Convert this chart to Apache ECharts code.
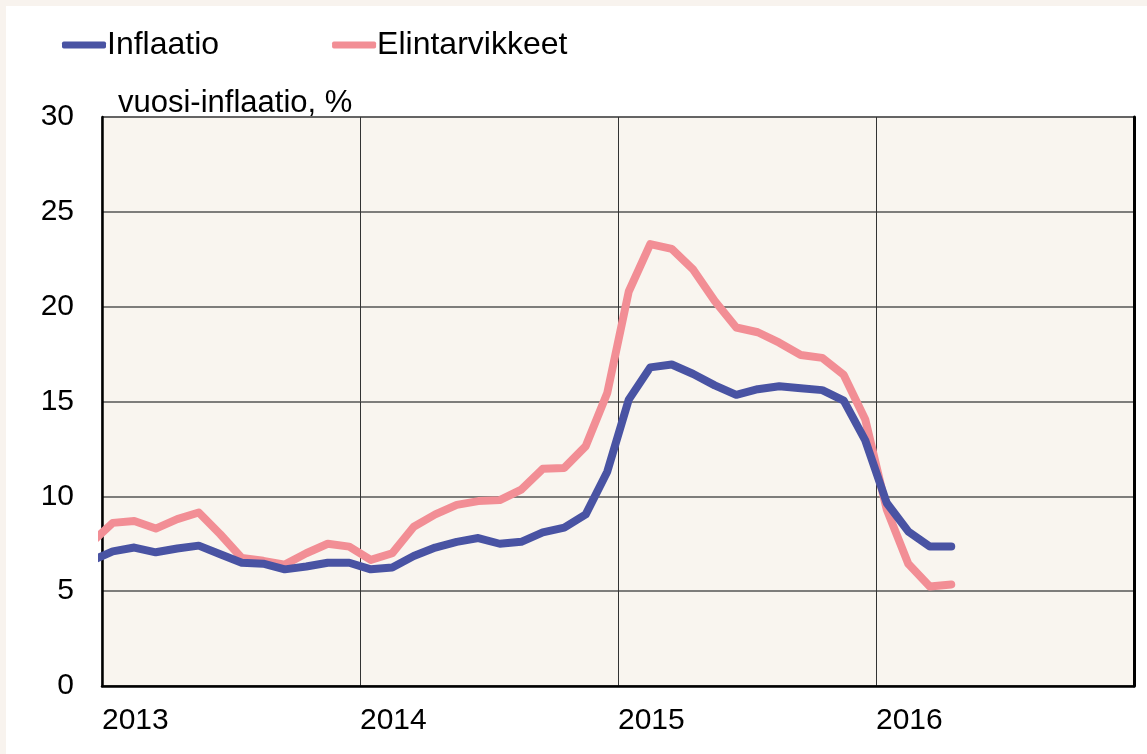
<!DOCTYPE html>
<html>
<head>
<meta charset="utf-8">
<script src="https://cdn.jsdelivr.net/npm/echarts@6/dist/echarts.min.js"></script>
<style>
  html, body { margin: 0; padding: 0; background: #fff; }
  #chart {
    width: 1147px; height: 754px; box-sizing: border-box;
    border-left: 6px solid #f8f3ee; border-top: 6px solid #f8f3ee;
  }
</style>
</head>
<body>
<div id="chart"></div>
<script>
// kuukausittainen vuosi-inflaatio, %
const months = [
  '2012-12',
  '2013-01', '2013-02', '2013-03', '2013-04', '2013-05', '2013-06',
  '2013-07', '2013-08', '2013-09', '2013-10', '2013-11', '2013-12',
  '2014-01', '2014-02', '2014-03', '2014-04', '2014-05', '2014-06',
  '2014-07', '2014-08', '2014-09', '2014-10', '2014-11', '2014-12',
  '2015-01', '2015-02', '2015-03', '2015-04', '2015-05', '2015-06',
  '2015-07', '2015-08', '2015-09', '2015-10', '2015-11', '2015-12',
  '2016-01', '2016-02', '2016-03', '2016-04'
]
const inflaatio = [
  6.6,
  7.1, 7.3, 7.05, 7.25, 7.4, 6.95, 6.5, 6.45, 6.15, 6.3, 6.5, 6.5,
  6.15, 6.25, 6.85, 7.3, 7.6, 7.8, 7.5, 7.6, 8.1, 8.35, 9.05, 11.3,
  15.1, 16.8, 16.95, 16.45, 15.85, 15.35, 15.65, 15.8, 15.7, 15.6, 15.05, 12.95,
  9.65, 8.15, 7.35, 7.35
]
const elintarvikkeet = [
  7.55,
  8.6, 8.7, 8.3, 8.8, 9.15, 8.0, 6.75, 6.6, 6.4, 7.0, 7.5, 7.35,
  6.65, 7.0, 8.4, 9.05, 9.55, 9.75, 9.8, 10.35, 11.45, 11.5, 12.65, 15.45,
  20.8, 23.3, 23.05, 21.95, 20.3, 18.9, 18.65, 18.1, 17.45, 17.3, 16.4, 14.05,
  9.3, 6.45, 5.25, 5.35
]
const yearLabels = ['2013', '2014', '2015', '2016']

// kuukausi -> x (keskellä kuukautta, 0 = tammikuu 2013)
function monthX (s) {
  const p = s.split('-')
  return (parseInt(p[0]) - 2013) * 12 + parseInt(p[1]) - 1 + 0.5
}
function pairs (values) {
  return values.map((v, i) => [monthX(months[i]), v])
}

const font = 'Liberation Sans, Arial, sans-serif'
const myChart = echarts.init(document.getElementById('chart'))
const option = {
  backgroundColor: '#fff',
  animation: false,
  legend: {
    left: 51,
    top: 18,
    icon: 'roundRect',
    itemWidth: 44,
    itemHeight: 7,
    itemGap: 113,
    textStyle: { fontSize: 32, color: '#000', fontFamily: font, padding: [0, 0, 0, -4] },
    data: ['Inflaatio', 'Elintarvikkeet']
  },
  grid: {
    left: 96,
    top: 111,
    right: 13,
    bottom: 68,
    show: true,
    backgroundColor: '#f9f5ef',
    borderColor: '#333',
    borderWidth: 1
  },
  xAxis: {
    type: 'value',
    min: 0,
    max: 48,
    interval: 12,
    axisLine: { show: true, onZero: false, lineStyle: { color: '#000', width: 2.5 } },
    axisTick: { show: false },
    splitLine: { show: true, lineStyle: { color: '#333', width: 1 } },
    axisLabel: {
      fontSize: 30,
      color: '#000',
      fontFamily: font,
      align: 'left',
      margin: 20,
      showMaxLabel: false,
      formatter: v => yearLabels[v / 12] || ''
    }
  },
  yAxis: [
    {
      type: 'value',
      min: 0,
      max: 30,
      interval: 5,
      name: 'vuosi-inflaatio, %',
      nameLocation: 'end',
      nameGap: -2,
      nameTextStyle: { fontSize: 31, color: '#000', fontFamily: font, align: 'left', padding: [0, 0, 0, 16] },
      axisLine: { show: true, lineStyle: { color: '#000', width: 2.5 } },
      axisTick: { show: false },
      splitLine: { show: true, lineStyle: { color: '#555', width: 1.5 } },
      axisLabel: { fontSize: 30, color: '#000', fontFamily: font, margin: 28 }
    },
    {
      type: 'value',
      position: 'right',
      min: 0,
      max: 30,
      interval: 5,
      axisLine: { show: true, lineStyle: { color: '#000', width: 3 } },
      axisTick: { show: false },
      axisLabel: { show: false },
      splitLine: { show: false }
    }
  ],
  series: [
    {
      name: 'Inflaatio',
      type: 'line',
      data: pairs(inflaatio),
      symbol: 'none',
      clip: true,
      color: '#4953a3',
      lineStyle: { width: 8, color: '#4953a3', cap: 'round', join: 'round' },
      z: 3
    },
    {
      name: 'Elintarvikkeet',
      type: 'line',
      data: pairs(elintarvikkeet),
      symbol: 'none',
      clip: true,
      color: '#f28e95',
      lineStyle: { width: 8, color: '#f28e95', cap: 'round', join: 'round' },
      z: 2
    }
  ]
}
myChart.setOption(option)
</script>
</body>
</html>
